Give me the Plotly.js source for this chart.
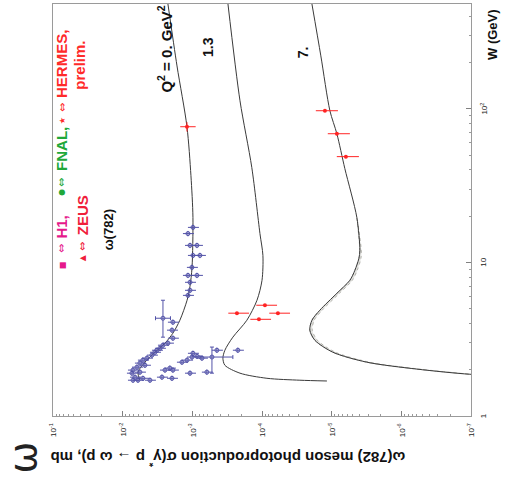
<!DOCTYPE html>
<html>
<head>
<meta charset="utf-8">
<script src="https://cdn.plot.ly/plotly-3.0.1.min.js"></script>
<style>
  html, body { margin: 0; padding: 0; background: #fff; }
  #chart { width: 506px; height: 481px; }
</style>
</head>
<body>
<div id="chart"></div>
<script>
// omega(782) electro/photoproduction: W in GeV, sigma in mb.
// The plot is laid out turned on its side: sigma runs along x, W along y.

// Model curves
const q0W   = [481, 190, 76.4, 36.7, 19.6, 9.28, 7.0, 5.67, 4.20, 3.46, 2.98, 2.60, 2.24, 1.93, 1.71];
const q0Sig = [2.24e-3, 1.66e-3, 1.194e-3, 1.047e-3, 9.8e-4, 1.01e-3, 1.08e-3, 1.19e-3, 1.51e-3, 1.90e-3, 2.47e-3, 3.44e-3, 4.79e-3, 6.03e-3, 5.65e-3];

const q13W   = [481, 112.7, 41.4, 15.4, 11.1, 7.64, 5.67, 4.20, 3.26, 2.68, 2.38, 2.14, 1.90, 1.76, 1.71, 1.69];
const q13Sig = [3.08e-4, 2.07e-4, 1.40e-4, 1.07e-4, 9.7e-5, 1.00e-4, 1.18e-4, 1.65e-4, 2.62e-4, 3.41e-4, 3.64e-4, 3.41e-4, 2.07e-4, 8.5e-5, 2.86e-5, 1.17e-5];

const q7W   = [481, 221, 97.1, 68.8, 40.8, 19.6, 11.97, 10.6, 8.87, 7.64, 6.29, 4.88, 4.20, 3.62, 3.11, 2.60, 2.24, 2.02, 1.87, 1.84];
const q7Sig = [1.92e-5, 1.43e-5, 1.06e-5, 8.42e-6, 6.47e-6, 4.35e-6, 3.94e-6, 4.07e-6, 4.65e-6, 5.48e-6, 8.42e-6, 1.48e-5, 1.92e-5, 2.06e-5, 1.74e-5, 9.6e-6, 3.13e-6, 6.0e-7, 1.04e-7, 3e-8];

// Uncertainty band of the Q^2 = 7 curve
const q7BandW     = [19.6, 11.97, 10.6, 8.87, 7.64, 6.29, 4.88, 4.20, 3.62, 3.11, 2.60, 2.24, 2.02, 1.87];
const q7BandSigHi = [4.35e-6, 3.94e-6, 4.07e-6, 4.65e-6, 5.48e-6, 8.42e-6, 1.48e-5, 1.92e-5, 2.06e-5, 1.74e-5, 9.6e-6, 3.13e-6, 6.0e-7, 1.04e-7];
const q7BandSigLo = [4.35e-6, 3.75e-6, 3.80e-6, 4.30e-6, 5.05e-6, 7.75e-6, 1.37e-5, 1.78e-5, 1.90e-5, 1.60e-5, 8.8e-6, 2.85e-6, 5.5e-7, 1.04e-7];

// Low-energy omega(782) measurements
const lowW = [16.9, 15.4, 12.9, 12.9, 11.1, 11.1, 9.28, 8.23, 8.23, 7.42, 6.58, 6.10,
              4.08, 3.62, 3.21, 2.98, 2.89, 2.76, 2.68, 2.60, 2.49, 2.38, 2.31, 2.21, 2.14, 2.08, 1.99, 1.93, 1.90, 1.79, 1.71, 1.76, 1.71, 1.71,
              1.99, 2.05, 1.99, 1.79, 1.76, 1.90, 1.93, 2.24, 2.31, 2.42, 2.45, 2.38, 2.68, 2.68, 2.56];
const lowSig = [9.8e-4, 1.156e-3, 8.59e-4, 1.08e-3, 9.8e-4, 7.78e-4, 1.014e-3, 1.156e-3, 8.59e-4, 1.08e-3, 1.08e-3, 1.156e-3,
                1.90e-3, 1.96e-3, 1.90e-3, 2.24e-3, 2.64e-3, 2.92e-3, 3.22e-3, 3.44e-3, 3.80e-3, 4.48e-3, 5.12e-3, 5.65e-3, 4.79e-3, 6.23e-3, 7.11e-3, 5.65e-3, 7.36e-3, 6.66e-3, 6.03e-3, 5.12e-3, 4.06e-3, 7.11e-3,
                2.47e-3, 2.10e-3, 1.90e-3, 2.73e-3, 1.96e-3, 1.08e-3, 6.18e-4, 1.41e-3, 1.19e-3, 1.01e-3, 8.59e-4, 7.28e-4, 4.44e-4, 2.22e-4, 9.8e-4];

// Two low-energy points with wide errors
const wideW       = [4.33, 2.42];
const wideSig     = [2.64e-3, 5.23e-4];
const wideWPlus   = [1.34, 0.39];
const wideWMinus  = [1.07, 0.52];
const wideSigPlus = [7.4e-4, 2.55e-4];
const wideSigMinus= [5.8e-4, 2.61e-4];

// ZEUS photoproduction
const zeusPhW = [76.4];
const zeusPhSig = [1.194e-3];
// HERMES preliminary
const hermesW = [5.26, 4.67, 4.67, 4.26];
const hermesSig = [9.08e-5, 2.29e-4, 5.91e-5, 1.107e-4];
// ZEUS Q^2 = 7
const zeusQ7W = [97.1, 68.8, 48.8];
const zeusQ7Sig = [1.25e-5, 8.42e-6, 6.25e-6];

// Axis tick labels (decade exponents and their text)
const sigTickExp = [-1, -2, -3, -4, -5, -6, -7];
const sigTickText = ['10<sup>-1</sup>', '10<sup>-2</sup>', '10<sup>-3</sup>', '10<sup>-4</sup>', '10<sup>-5</sup>', '10<sup>-6</sup>', '10<sup>-7</sup>'];
const wTickExp = [0, 1, 2];
const wTickText = ['1', '10', '10<sup>2</sup>'];

// Key entries: marker glyph, experiment name, colour
const keySymbols = ['■', '●', '★', '▲'];
const keyNames = ['H1,', 'FNAL,', 'HERMES,', 'ZEUS'];
const keyColors = ['#e5198b', '#20a83a', '#ff2a2a', '#f0203a'];

const BLUE = '#5252a8';
const RED = '#ff2424';
const CURVE = '#3a3a3a';
const FONT = 'Liberation Sans, Arial, sans-serif';

const curve = (x, y) => ({
  x, y, type: 'scatter', mode: 'lines', hoverinfo: 'skip',
  line: { color: CURVE, width: 1, shape: 'spline', smoothing: 0.8 }
});

const traces = [
  {
    x: q7BandSigHi.concat(q7BandSigLo.slice().reverse()),
    y: q7BandW.concat(q7BandW.slice().reverse()),
    type: 'scatter', mode: 'lines', fill: 'toself',
    fillcolor: 'rgba(175,175,165,0.35)',
    line: { color: '#9a9a90', width: 0.7, dash: 'dot', shape: 'spline', smoothing: 0.8 },
    hoverinfo: 'skip'
  },
  curve(q0Sig, q0W),
  curve(q13Sig, q13W),
  curve(q7Sig, q7W),
  {
    x: lowSig, y: lowW, type: 'scatter', mode: 'markers',
    marker: { symbol: 'circle-open', size: 4, color: BLUE, line: { width: 1, color: BLUE } },
    error_x: { type: 'percent', value: 18, color: BLUE, thickness: 1, width: 0 },
    error_y: { type: 'percent', value: 4, color: BLUE, thickness: 1, width: 0 }
  },
  {
    x: wideSig, y: wideW, type: 'scatter', mode: 'markers',
    marker: { symbol: 'circle-open', size: 4, color: BLUE, line: { width: 1, color: BLUE } },
    error_x: { type: 'data', array: wideSigPlus, arrayminus: wideSigMinus, color: BLUE, thickness: 1, width: 2 },
    error_y: { type: 'data', array: wideWPlus, arrayminus: wideWMinus, color: BLUE, thickness: 1, width: 2 }
  },
  {
    x: zeusPhSig, y: zeusPhW, type: 'scatter', mode: 'markers',
    marker: { symbol: 'circle', size: 4, color: RED },
    error_x: { type: 'percent', value: 25, color: RED, thickness: 1, width: 0 },
    error_y: { type: 'percent', value: 7, color: RED, thickness: 1, width: 0 }
  },
  {
    x: hermesSig, y: hermesW, type: 'scatter', mode: 'markers',
    marker: { symbol: 'circle', size: 4, color: RED },
    error_x: { type: 'percent', value: 33, color: RED, thickness: 1, width: 0 }
  },
  {
    x: zeusQ7Sig, y: zeusQ7W, type: 'scatter', mode: 'markers',
    marker: { symbol: 'circle', size: 4, color: RED },
    error_x: { type: 'percent', value: 35, color: RED, thickness: 1, width: 0 }
  }
];

// Text laid along the W direction (reads bottom to top)
const side = (txt, x, y, color, size, anchorY, family, weight) => ({
  text: txt, xref: 'paper', yref: 'paper', x, y, showarrow: false,
  textangle: -90, xanchor: 'center', yanchor: anchorY || 'bottom',
  font: { family: family || FONT, size: size || 15, color: color || '#111', weight: weight || 'bold' }
});

// Key layout: column x, marker / arrow / name positions (paper units)
const keyX      = [0.0215, 0.0215, 0.0215, 0.0694];
const keySymY   = [0.366, 0.544, 0.718, 0.383];
const keyArrowY = [0.408, 0.568, 0.750, 0.410];
const keyNameY  = [0.427, 0.590, 0.767, 0.434];

const annotations = [];
keyNames.forEach((name, i) => {
  annotations.push(side(keySymbols[i], keyX[i], keySymY[i], keyColors[i], 8, 'middle', 'DejaVu Sans, sans-serif', 'normal'));
  annotations.push(side('⇔', keyX[i], keyArrowY[i], keyColors[i], 11, 'middle', 'DejaVu Sans, sans-serif', 'normal'));
  annotations.push(side(name, keyX[i], keyNameY[i], keyColors[i], 15));
});

annotations.push(
  side('prelim.', 0.0646, 0.786, '#ff2a2a', 15),
  side('ω(782)', 0.1316, 0.396, '#111', 13),
  side('Q<sup>2</sup> = 0. GeV<sup>2</sup>', 0.268, 0.779, '#111', 15),
  side('1.3', 0.371, 0.896, '#111', 14, 'middle'),
  side('7.', 0.598, 0.883, '#111', 14, 'middle'),
  side('W (GeV)', 1.050, 0.927, '#111', 13, 'middle'),
  {
    text: 'ω(782) meson photoproduction σ(γ<sup>*</sup> p → ω p), mb',
    xref: 'paper', yref: 'paper', x: 0.419, y: -0.104, showarrow: false,
    textangle: 180, xanchor: 'center', yanchor: 'middle',
    font: { family: FONT, size: 15, color: '#111', weight: 'bold' }
  },
  side('ω', -0.071, -0.100, '#222', 38, 'middle', 'DejaVu Sans, sans-serif', 'normal')
);

// Tick labels, turned with the rest of the plot
sigTickExp.forEach((e, i) => annotations.push({
  text: sigTickText[i], xref: 'x', yref: 'paper', x: e, y: -0.012, showarrow: false,
  textangle: -90, xanchor: 'center', yanchor: 'top',
  font: { family: FONT, size: 8, color: '#222' }
}));
wTickExp.forEach((e, i) => annotations.push({
  text: wTickText[i], xref: 'paper', yref: 'y', x: 1.014, y: e, showarrow: false,
  textangle: -90, xanchor: 'left', yanchor: 'middle',
  font: { family: FONT, size: 8, color: '#222' }
}));

const axisCommon = {
  type: 'log', showgrid: false, zeroline: false, showticklabels: false,
  showline: true, mirror: true, linecolor: '#9a9a9a', linewidth: 1,
  ticks: 'inside', ticklen: 5, tickcolor: '#808080', tickwidth: 1, dtick: 1,
  minor: { ticks: 'inside', ticklen: 2.5, tickcolor: '#9a9a9a', dtick: 'D1', showgrid: false }
};

const layout = {
  width: 506, height: 481,
  margin: { l: 53, r: 35, t: 4, b: 65 },
  paper_bgcolor: '#ffffff', plot_bgcolor: '#ffffff',
  showlegend: false,
  xaxis: Object.assign({}, axisCommon, { range: [-1, -7], side: 'bottom' }),
  yaxis: Object.assign({}, axisCommon, { range: [0, 2.682], side: 'right' }),
  annotations
};

Plotly.newPlot('chart', traces, layout, { displayModeBar: false });
</script>
</body>
</html>
